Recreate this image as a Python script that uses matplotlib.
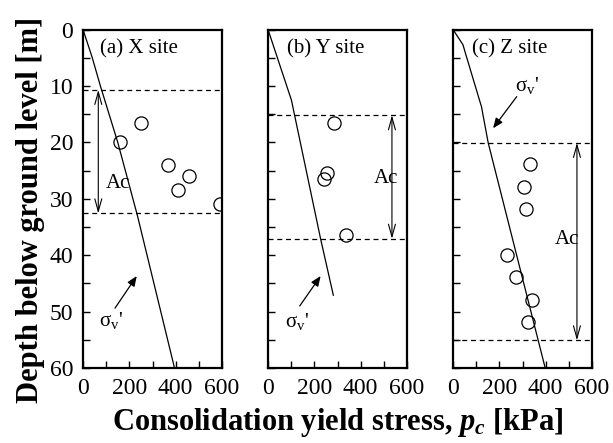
import matplotlib
matplotlib.use("Agg")
import matplotlib.pyplot as plt
from matplotlib.ticker import MultipleLocator

plt.rcParams['font.family'] = ['Liberation Serif', 'DejaVu Serif']
plt.rcParams['mathtext.fontset'] = 'custom'
plt.rcParams['mathtext.rm'] = 'Liberation Serif'
plt.rcParams['mathtext.it'] = 'Liberation Serif:italic:bold'
plt.rcParams['mathtext.bf'] = 'Liberation Serif:bold'

### Données ###
sites = ["(a) X site", "(b) Y site", "(c) Z site"]

# pc mesuré [kPa] et profondeur [m]
pc_x = [160, 249, 365, 457, 411, 591]
z_x = [20.0, 16.5, 24.0, 25.9, 28.5, 30.9]
pc_y = [285, 256, 241, 335]
z_y = [16.5, 25.4, 26.5, 36.4]
pc_z = [333, 307, 315, 234, 270, 340, 325]
z_z = [23.9, 28.0, 31.8, 40.0, 43.8, 48.0, 51.8]

# contrainte verticale effective sigma_v'
sv_x = [0, 40, 75, 150, 235, 395]
sz_x = [0, 5, 10, 20, 33, 60]
sv_y = [0, 101, 227, 282]
sz_y = [0, 12.5, 37.1, 47.1]
sv_z = [0, 43, 58, 123, 152, 398]
sz_z = [0, 2.7, 4.8, 13.7, 20.1, 60]

# limites de la couche Ac (haut, bas)
ac_x = [10.7, 32.6]
ac_y = [15.2, 37.1]
ac_z = [20.1, 55.1]

pc_all = [pc_x, pc_y, pc_z]
z_all = [z_x, z_y, z_z]
sv_all = [sv_x, sv_y, sv_z]
sz_all = [sz_x, sz_y, sz_z]
ac_all = [ac_x, ac_y, ac_z]
ac_arrow_x = [66, 535, 535]
ac_text = [(100, 27.3), (455, 26.4), (441, 37.3)]
# fleche sigma_v' : (texte), (queue), (pointe)
sig_text = [(120, 51.5), (126, 51.8), (320, 10.0)]
sig_tail = [(138, 49.4), (137, 49.0), (275, 11.9)]
sig_head = [(232, 43.7), (227, 43.7), (173, 17.5)]

fig = plt.figure(figsize=(6.13, 4.43), dpi=100)
lefts = [83, 268, 453]

for i in range(3):
    ax = fig.add_axes([lefts[i] / 613, 1 - 368 / 443, 139 / 613, (368 - 29.5) / 443])
    ax.set_xlim(0, 600)
    ax.set_ylim(60, 0)

    ax.plot(sv_all[i], sz_all[i], color='black', lw=0.9)
    ax.plot(pc_all[i], z_all[i], 'o', ms=9.5, mfc='none', mec='black', mew=0.9)

    for d in ac_all[i]:
        ax.axhline(d, color='black', lw=0.9, dashes=(4, 3))

    ax.annotate("", xy=(ac_arrow_x[i], ac_all[i][0]), xytext=(ac_arrow_x[i], ac_all[i][1]),
                arrowprops=dict(arrowstyle='<->,head_length=0.9,head_width=0.25',
                                lw=0.8, color='black', shrinkA=0, shrinkB=0))
    ax.text(ac_text[i][0], ac_text[i][1], "Ac", fontsize=15, ha='left', va='center')

    ax.annotate("", xy=sig_head[i], xytext=sig_tail[i],
                arrowprops=dict(arrowstyle='-|>,head_length=0.6,head_width=0.25',
                                lw=0.9, color='black', shrinkA=0, shrinkB=0))
    ax.text(sig_text[i][0], sig_text[i][1], "σ$_\\mathrm{v}$'", fontsize=15,
            ha='center', va='center')

    ax.text(73 if i == 0 else 80, 3.5, sites[i], fontsize=15, ha='left', va='center')

    ax.xaxis.set_major_locator(MultipleLocator(200))
    ax.xaxis.set_minor_locator(MultipleLocator(100))
    ax.yaxis.set_major_locator(MultipleLocator(10))
    ax.yaxis.set_minor_locator(MultipleLocator(5))
    ax.tick_params(which='both', direction='in', length=5, width=1,
                   top=False, right=False, labelsize=17)
    ax.tick_params(axis='x', pad=7)
    ax.tick_params(axis='y', pad=7)
    if i > 0:
        ax.set_yticklabels([])
    for s in ax.spines.values():
        s.set_linewidth(1.6)

fig.text(31 / 613, 1 - 210 / 443, "Depth below ground level [m]", rotation=90,
         fontsize=22, fontweight='bold', ha='center', va='center')
fig.text(337.5 / 613, 1 - 430 / 443, "Consolidation yield stress, $p_c$ [kPa]",
         fontsize=22, fontweight='bold', ha='center', va='baseline')

fig.savefig("out.png", dpi=100)
